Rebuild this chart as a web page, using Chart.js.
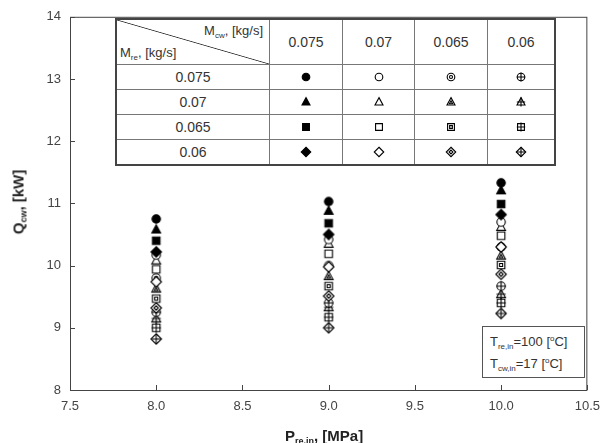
<!DOCTYPE html>
<html>
<head>
<meta charset="utf-8">
<script src="https://cdn.jsdelivr.net/npm/chart.js@4/dist/chart.umd.min.js"></script>
<style>
  body { margin: 0; background: #fff; font-family: "Liberation Sans", Arial, sans-serif; }
  #wrap { position: relative; width: 609px; height: 443px; overflow: hidden; }
  #key { position: absolute; left: 115px; top: 18px; border-collapse: collapse; background: #fff;
         border: 2px solid #444; color: #333; font-size: 14px; }
  #key td { border: 1px solid #777; text-align: center; padding: 0; height: 24px; }
  #key td.corner { position: relative; height: 44px; width: 152px;
         background: linear-gradient(to top right, transparent calc(50% - 0.8px), #333 50%, transparent calc(50% + 0.8px)); }
  #key td.corner span { position: absolute; font-size: 13px; white-space: nowrap; }
  #key canvas { display: block; margin: 0 auto; }
  .note { position: absolute; left: 482px; top: 326px; width: 103px; height: 52px; border: 1px solid #555;
          background: #fff; font-size: 13px; color: #333; line-height: 22px; padding: 4px 0 0 7px; box-sizing: border-box; }
  sub { font-size: 8px; line-height: 0; vertical-align: -3px; }
  sup { font-size: 8px; line-height: 0; vertical-align: 5px; }
  .ytitle { position: absolute; left: 18px; top: 202px; transform: translate(-50%, -50%) rotate(-90deg);
            white-space: nowrap; font-weight: bold; font-size: 15px; color: #222; }
  .xtitle { position: absolute; left: 285px; top: 427px; white-space: nowrap; font-weight: bold; font-size: 15px; color: #222; }
  .ytitle sub, .xtitle sub { font-size: 9px; }
</style>
</head>
<body>
<div id="wrap">
  <canvas id="chart" width="609" height="443"></canvas>
  <table id="key"></table>
  <div class="note">T<sub>re,in</sub>=100 [<sup>o</sup>C]<br>T<sub>cw,in</sub>=17 [<sup>o</sup>C]</div>
  <div class="ytitle">Q<sub>cw</sub>, [kW]</div>
  <div class="xtitle">P<sub>re,in</sub>, [MPa]</div>
</div>
<script>
// x categories: refrigerant pressure [MPa]
const pressures = [8.0, 9.0, 10.0];
const mcwLevels = ["0.075", "0.07", "0.065", "0.06"];
const mreLevels = ["0.075", "0.07", "0.065", "0.06"];
const xTicks = [7.5, 8.0, 8.5, 9.0, 9.5, 10.0, 10.5];
const yTicks = [8, 9, 10, 11, 12, 13, 14];

// Q_cw [kW], one row per M_re (0.075, 0.07, 0.065, 0.06), values at 8, 9, 10 MPa
const qCw075 = [[10.75, 11.03, 11.33], [10.58, 10.88, 11.21], [10.40, 10.68, 10.99], [10.22, 10.50, 10.82]];
const qCw070 = [[10.17, 10.42, 10.70], [10.08, 10.35, 10.62], [9.94, 10.19, 10.48], [9.74, 9.98, 10.30]];
const qCw065 = [[9.80, 10.00, 10.30], [9.63, 9.83, 10.16], [9.47, 9.67, 10.01], [9.32, 9.51, 9.86]];
const qCw060 = [[9.25, 9.40, 9.67], [9.15, 9.33, 9.54], [9.00, 9.17, 9.40], [8.82, 9.00, 9.23]];
const qByMcw = [qCw075, qCw070, qCw065, qCw060];

// marker look: shape per M_re, fill variant per M_cw
const shapes = ["circle", "triangle", "square", "diamond"];
const variants = ["filled", "open", "dot", "cross"];

function shapePath(ctx, shape, cx, cy, r) {
  ctx.beginPath();
  if (shape === "circle") {
    ctx.arc(cx, cy, r, 0, Math.PI * 2);
  } else if (shape === "triangle") {
    ctx.moveTo(cx, cy - r * 1.15);
    ctx.lineTo(cx + r * 1.05, cy + r * 0.8);
    ctx.lineTo(cx - r * 1.05, cy + r * 0.8);
    ctx.closePath();
  } else if (shape === "square") {
    ctx.rect(cx - r * 0.9, cy - r * 0.9, r * 1.8, r * 1.8);
  } else {
    ctx.moveTo(cx, cy - r * 1.25);
    ctx.lineTo(cx + r * 1.25, cy);
    ctx.lineTo(cx, cy + r * 1.25);
    ctx.lineTo(cx - r * 1.25, cy);
    ctx.closePath();
  }
}

function makeMarker(shape, variant, r) {
  const c = document.createElement("canvas");
  c.width = 14;
  c.height = 14;
  const ctx = c.getContext("2d");
  const cx = 7, cy = 7;
  ctx.lineWidth = 1.1;
  ctx.strokeStyle = "#000";
  ctx.fillStyle = variant === "filled" ? "#000" : "#fff";
  shapePath(ctx, shape, cx, cy, r);
  ctx.fill();
  ctx.stroke();
  if (variant === "dot") {
    shapePath(ctx, shape, cx, cy + (shape === "triangle" ? 0.6 : 0), r * 0.4);
    ctx.stroke();
  }
  if (variant === "cross") {
    ctx.beginPath();
    ctx.moveTo(cx - r * 1.1, cy);
    ctx.lineTo(cx + r * 1.1, cy);
    ctx.moveTo(cx, cy - r * 1.2);
    ctx.lineTo(cx, cy + r * 1.2);
    ctx.stroke();
  }
  return c;
}

const markers = variants.map((v) => shapes.map((s) => makeMarker(s, v, 4.2)));
const keyMarkers = variants.map((v) => shapes.map((s) => makeMarker(s, v, 3.8)));

// legend table
let keyHtml = `<tr><td class="corner"><span style="right:6px;top:3px">M<sub>cw</sub>, [kg/s]</span><span style="left:3px;bottom:4px">M<sub>re</sub>, [kg/s]</span></td>`;
const colWidths = [72, 71, 72, 66];
mcwLevels.forEach((m, j) => {
  keyHtml += `<td style="width:${colWidths[j]}px">${m}</td>`;
});
keyHtml += "</tr>";
mreLevels.forEach((m, i) => {
  keyHtml += `<tr><td>${m}</td>`;
  mcwLevels.forEach((_, j) => {
    keyHtml += `<td id="k-${i}-${j}"></td>`;
  });
  keyHtml += "</tr>";
});
document.getElementById("key").innerHTML = keyHtml;
mreLevels.forEach((_, i) => {
  mcwLevels.forEach((_, j) => {
    const c = document.createElement("canvas");
    c.width = 14;
    c.height = 14;
    c.getContext("2d").drawImage(keyMarkers[j][i], 0, 0);
    document.getElementById(`k-${i}-${j}`).appendChild(c);
  });
});

const datasets = [];
qByMcw.forEach((rows, j) => {
  rows.forEach((vals, i) => {
    datasets.push({
      label: `Mcw ${mcwLevels[j]} / Mre ${mreLevels[i]}`,
      data: pressures.map((p, k) => ({ x: p, y: vals[k] })),
      pointStyle: markers[j][i],
      showLine: false,
    });
  });
});

// frame + inward tick marks
const framePlugin = {
  id: "frame",
  afterDraw(chart) {
    const { ctx, chartArea: a, scales } = chart;
    ctx.save();
    ctx.strokeStyle = "#444";
    ctx.lineWidth = 1;
    ctx.strokeRect(a.left + 0.5, a.top + 0.5, a.right - a.left - 1, a.bottom - a.top);
    ctx.beginPath();
    scales.x.ticks.forEach((t, k) => {
      const px = Math.round(scales.x.getPixelForTick(k)) + 0.5;
      ctx.moveTo(px, a.bottom);
      ctx.lineTo(px, a.bottom - 5);
    });
    scales.y.ticks.forEach((t, k) => {
      const py = Math.round(scales.y.getPixelForTick(k)) + 0.5;
      ctx.moveTo(a.left, py);
      ctx.lineTo(a.left + 5, py);
    });
    ctx.stroke();
    ctx.restore();
  },
};

const tickFont = { size: 13, family: "Liberation Sans" };

new Chart(document.getElementById("chart"), {
  type: "scatter",
  data: { datasets: datasets },
  options: {
    responsive: false,
    animation: false,
    layout: { padding: { top: 13, right: 15, left: 0, bottom: 0 } },
    plugins: { legend: { display: false }, tooltip: { enabled: false } },
    scales: {
      x: {
        type: "linear",
        min: 7.5,
        max: 10.5,
        afterFit: (s) => { s.height = 53; },
        afterBuildTicks: (s) => { s.ticks = xTicks.map((v) => ({ value: v })); },
        grid: { display: false, drawTicks: false },
        border: { display: false },
        ticks: { padding: 9, color: "#444", font: tickFont, callback: (v) => Number(v).toFixed(1) },
      },
      y: {
        type: "linear",
        min: 8,
        max: 14,
        afterFit: (s) => { s.width = 70; },
        afterBuildTicks: (s) => { s.ticks = yTicks.map((v) => ({ value: v })); },
        grid: { display: false, drawTicks: false },
        border: { display: false },
        ticks: { padding: 9, color: "#444", font: tickFont },
      },
    },
  },
  plugins: [framePlugin],
});
</script>
</body>
</html>
